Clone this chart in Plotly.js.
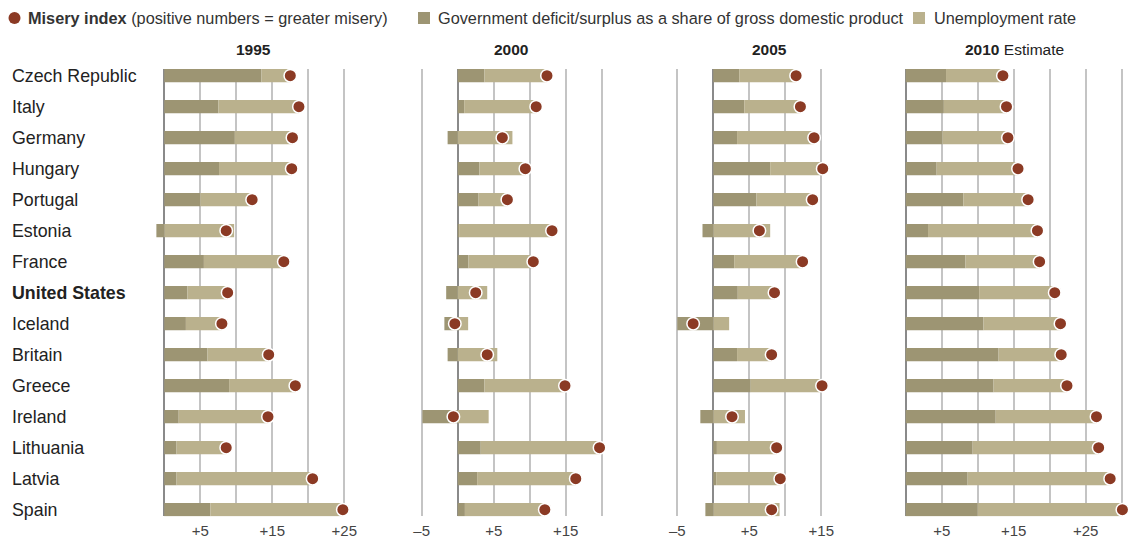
<!DOCTYPE html>
<html>
<head>
<meta charset="utf-8">
<script src="https://cdn.plot.ly/plotly-3.0.1.min.js"></script>
<style>
  html, body { margin: 0; padding: 0; background: #ffffff; }
  #chart { width: 1132px; height: 542px; }
</style>
</head>
<body>
<div id="chart"></div>
<script>
// Countries, top to bottom
const countries = [
  "Czech Republic", "Italy", "Germany", "Hungary", "Portugal", "Estonia", "France",
  "United States", "Iceland", "Britain", "Greece", "Ireland", "Lithuania", "Latvia", "Spain"
];

// Government deficit (+) / surplus (−), % of GDP
const deficit1995 = [13.5, 7.5, 9.8, 7.6, 5.0, -1.1, 5.5, 3.2, 3.0, 6.0, 9.0, 2.0, 1.7, 1.7, 6.4];
const deficit2000 = [3.7, 0.9, -1.4, 3.0, 2.9, 0.2, 1.5, -1.6, -1.85, -1.4, 3.7, -4.9, 3.2, 2.7, 1.0];
const deficit2005 = [3.6, 4.3, 3.3, 7.9, 6.0, -1.5, 2.9, 3.4, -5.0, 3.3, 5.2, -1.8, 0.5, 0.4, -1.1];
const deficit2010 = [5.6, 5.3, 5.1, 4.3, 8.0, 3.1, 8.3, 10.2, 10.8, 12.9, 12.2, 12.5, 9.3, 8.6, 10.0];

// Unemployment rate, %
const unemp1995 = [4.0, 11.2, 8.0, 10.1, 7.2, 9.7, 11.1, 5.6, 5.0, 8.5, 9.2, 12.4, 6.9, 18.9, 18.4];
const unemp2000 = [8.7, 10.0, 7.6, 6.4, 4.0, 12.9, 9.0, 4.1, 1.45, 5.5, 11.2, 4.3, 16.5, 13.7, 11.1];
const unemp2005 = [7.9, 7.8, 10.7, 7.3, 7.8, 7.9, 9.5, 5.1, 2.2, 4.8, 9.9, 4.4, 8.3, 8.9, 9.2];
const unemp2010 = [7.9, 8.7, 9.1, 11.3, 9.0, 15.2, 10.3, 10.5, 10.7, 8.7, 10.2, 14.0, 17.5, 19.8, 20.1];

// Panel headings and axis tick labels
const panelTitles = ["<b>1995</b>", "<b>2000</b>", "<b>2005</b>", "<b>2010</b> Estimate"];
const tickVals = [
  [0, 5, 10, 15, 20, 25],
  [-5, 0, 5, 10, 15, 20],
  [-5, 0, 5, 10, 15],
  [0, 5, 10, 15, 20, 25, 30]
];
const tickText = [
  ["", "+5", "", "+15", "", "+25"],
  ["–5", "", "+5", "", "+15", ""],
  ["–5", "", "+5", "", "+15"],
  ["", "+5", "", "+15", "", "+25", ""]
];

const W = 1132, H = 542;
const px = x => x / W;
const py = y => 1 - y / H;

const DARK = "#9d9573";
const LIGHT = "#bab18d";
const DOT = "#8b3a24";
const FONT = "Liberation Sans, Arial, Helvetica, sans-serif";

const deficits = [deficit1995, deficit2000, deficit2005, deficit2010];
const unemps = [unemp1995, unemp2000, unemp2005, unemp2010];

// Each panel: zero position and scale in pixels, plus its data range
const PXU = 7.2;
const panels = [
  { zero: 164.3, r: [-2, 26.5] },
  { zero: 457.7, r: [-5.5, 21] },
  { zero: 713.3, r: [-5.5, 16.5] },
  { zero: 905.7, r: [-1.5, 31] }
];

const traces = [];
const layout = {
  width: W, height: H,
  margin: { l: 0, r: 0, t: 0, b: 0 },
  paper_bgcolor: "#ffffff",
  plot_bgcolor: "rgba(0,0,0,0)",
  barmode: "relative",
  bargap: 0.57,
  showlegend: false,
  font: { family: FONT, color: "#333333" },
  yaxis: {
    type: "category",
    categoryorder: "array",
    categoryarray: countries,
    range: [14.216, -0.216],
    domain: [(H - 516.4) / H, (H - 69) / H],
    showticklabels: false,
    showgrid: false,
    zeroline: false,
    showline: false,
    ticks: ""
  },
  annotations: [],
  shapes: []
};

panels.forEach((p, i) => {
  const ax = i === 0 ? "x" : "x" + (i + 1);
  const axName = i === 0 ? "xaxis" : "xaxis" + (i + 1);
  const misery = deficits[i].map((d, k) => d + unemps[i][k]);

  traces.push({
    type: "bar", orientation: "h", xaxis: ax, yaxis: "y",
    y: countries, x: deficits[i],
    marker: { color: DARK, line: { width: 0 } },
    hoverinfo: "skip"
  });
  traces.push({
    type: "bar", orientation: "h", xaxis: ax, yaxis: "y",
    y: countries, x: unemps[i],
    marker: { color: LIGHT, line: { width: 0 } },
    hoverinfo: "skip"
  });
  traces.push({
    type: "scatter", mode: "markers", xaxis: ax, yaxis: "y",
    y: countries, x: misery,
    cliponaxis: false,
    marker: { color: DOT, size: 12.5, line: { color: "#ffffff", width: 1.5 } },
    hoverinfo: "skip"
  });

  const left = p.zero + p.r[0] * PXU;
  const right = p.zero + p.r[1] * PXU;
  layout[axName] = {
    anchor: "y",
    domain: [px(left), px(right)],
    range: p.r,
    tickmode: "array",
    tickvals: tickVals[i],
    ticktext: tickText[i],
    tickfont: { family: FONT, size: 15, color: "#444444" },
    ticks: "",
    ticklabelstandoff: 4,
    showgrid: true,
    gridcolor: "#c4c4c4",
    gridwidth: 2,
    zeroline: true,
    zerolinecolor: "#8a8a8a",
    zerolinewidth: 2,
    showline: false,
    fixedrange: true
  };
});

// Panel headings
const titleX = [253, 511, 769, 1014];
panelTitles.forEach((t, i) => {
  layout.annotations.push({
    xref: "paper", yref: "paper", x: px(titleX[i]), y: py(49),
    xanchor: "center", yanchor: "middle", showarrow: false,
    text: t, font: { family: FONT, size: 15.5, color: "#222222" }
  });
});

// Country names
countries.forEach(c => {
  layout.annotations.push({
    xref: "paper", yref: "y", x: px(10), y: c,
    xanchor: "left", yanchor: "middle", showarrow: false,
    text: c === "United States" ? "<b>" + c + "</b>" : c,
    font: { family: FONT, size: 17.8, color: "#222222" }
  });
});

// Key across the top
layout.shapes.push({
  type: "circle", xref: "paper", yref: "paper",
  x0: px(8.5), x1: px(20.5), y0: py(24), y1: py(12),
  fillcolor: DOT, line: { width: 0 }
});
layout.shapes.push({
  type: "rect", xref: "paper", yref: "paper",
  x0: px(418), x1: px(430), y0: py(24), y1: py(12),
  fillcolor: DARK, line: { width: 0 }
});
layout.shapes.push({
  type: "rect", xref: "paper", yref: "paper",
  x0: px(913), x1: px(925), y0: py(24), y1: py(12),
  fillcolor: LIGHT, line: { width: 0 }
});
const keyItems = [
  [26, "<b>Misery index</b> (positive numbers = greater misery)"],
  [436, "Government deficit/surplus as a share of gross domestic product"],
  [932, "Unemployment rate"]
];
keyItems.forEach(([x, t]) => {
  layout.annotations.push({
    xref: "paper", yref: "paper", x: px(x), y: py(18),
    xanchor: "left", yanchor: "middle", showarrow: false,
    text: t, font: { family: FONT, size: 16.3, color: "#333333" }
  });
});

Plotly.newPlot("chart", traces, layout, { displayModeBar: false, staticPlot: true });
</script>
</body>
</html>
